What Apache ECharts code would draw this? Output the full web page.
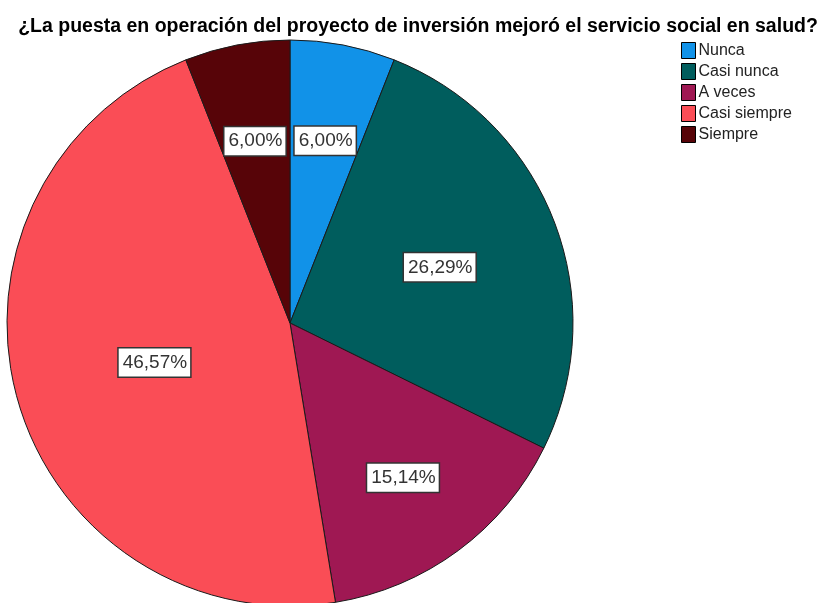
<!DOCTYPE html>
<html>
<head>
<meta charset="utf-8">
<script src="https://cdn.jsdelivr.net/npm/echarts@6/dist/echarts.min.js"></script>
<style>
html,body{margin:0;padding:0;background:#fff;}
#chart{width:819px;height:603px;}
</style>
</head>
<body>
<div id="chart"></div>
<script>
const titleText = '¿La puesta en operación del proyecto de inversión mejoró el servicio social en salud?';
const categories = ['Nunca', 'Casi nunca', 'A veces', 'Casi siempre', 'Siempre'];
const percents = [6.00, 26.29, 15.14, 46.57, 6.00];
const colors = ['#1192e8', '#005d5d', '#9f1853', '#fa4d56', '#570408'];

// layout constants
const CX = 290, CY = 323, R = 283;
const labelRadiusFrac = [0.663, 0.567, 0.671, 0.497, 0.661];

const chart = echarts.init(document.getElementById('chart'), null, {renderer: 'canvas'});

const total = percents.reduce((a, b) => a + b, 0);
function midAngle(i) {
  let cum = 0;
  for (let k = 0; k < i; k++) cum += percents[k];
  return (cum + percents[i] / 2) / total * 2 * Math.PI;
}

const option = {
  backgroundColor: '#ffffff',
  animation: false,
  color: colors,
  title: {
    text: titleText,
    left: 413,
    textAlign: 'center',
    top: 12,
    textStyle: {fontFamily: 'Liberation Sans, Arial, sans-serif', fontSize: 19.5, fontWeight: 'bold', color: '#000'}
  },
  legend: {
    orient: 'vertical',
    left: 676,
    top: 37,
    itemWidth: 14,
    itemHeight: 16,
    itemGap: 4,
    icon: 'rect',
    data: categories,
    itemStyle: {borderColor: '#000', borderWidth: 1},
    textStyle: {fontFamily: 'Liberation Sans, Arial, sans-serif', fontSize: 16, color: '#222', padding: [0, 0, 0, -2]}
  },
  series: [{
    type: 'pie',
    center: [CX, CY],
    radius: [0, R],
    startAngle: 90,
    clockwise: true,
    avoidLabelOverlap: false,
    itemStyle: {borderColor: '#1a1a1a', borderWidth: 1},
    emphasis: {disabled: true},
    label: {
      show: true,
      position: 'inside',
      formatter: p => p.value.toFixed(2).replace('.', ',') + '%',
      fontFamily: 'Liberation Sans, Arial, sans-serif',
      fontSize: 19,
      color: '#333',
      backgroundColor: '#fff',
      borderColor: '#333',
      borderWidth: 1.5,
      padding: [5, 3, 4, 4]
    },
    labelLine: {show: false},
    labelLayout: function (params) {
      const i = params.dataIndex;
      const a = midAngle(i);
      const r = labelRadiusFrac[i] * R;
      return {
        x: CX + r * Math.sin(a),
        y: CY - r * Math.cos(a) + 2,
        align: 'center',
        verticalAlign: 'middle'
      };
    },
    data: categories.map((c, i) => ({name: c, value: percents[i]}))
  }]
};
chart.setOption(option);
</script>
</body>
</html>
